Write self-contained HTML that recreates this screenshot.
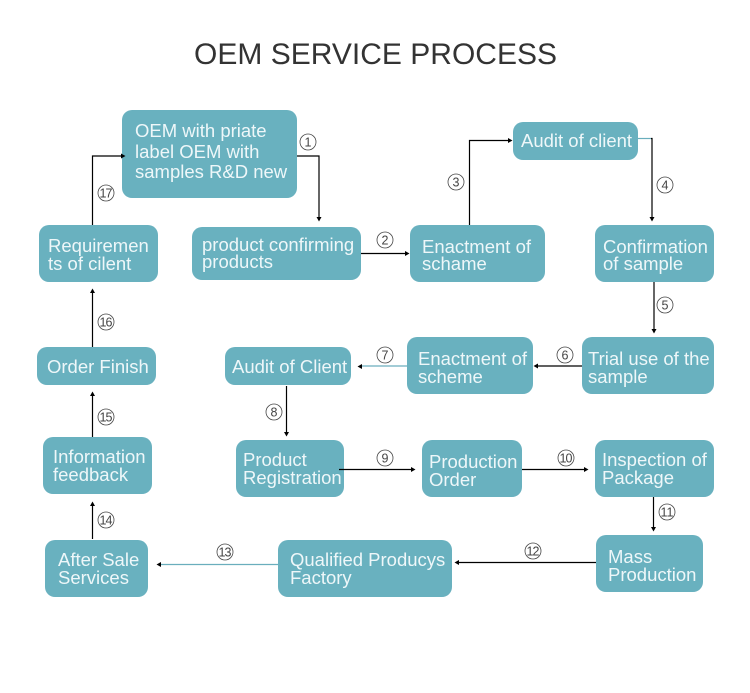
<!DOCTYPE html>
<html>
<head>
<meta charset="utf-8">
<style>
html,body{margin:0;padding:0;background:#fff;width:750px;height:693px;overflow:hidden}
svg{display:block}
text{font-family:"Liberation Sans",sans-serif}
.t{font-size:18.5px;fill:#eef7f9}
.n{font-size:12.5px;fill:#444;text-anchor:middle}
.c{fill:none;stroke:#444;stroke-width:.8}
.l{fill:none;stroke:#000;stroke-width:1.2}
.b{fill:none;stroke:#6aaebd;stroke-width:1.2}
.r{fill:#69b1bf}
</style>
</head>
<body>
<svg width="750" height="693" viewBox="0 0 750 693" xmlns="http://www.w3.org/2000/svg">
<rect width="750" height="693" fill="#fff"/>
<text x="194" y="64" font-size="30" fill="#333" textLength="363">OEM SERVICE PROCESS</text>

<rect class="r" x="122" y="110" width="175" height="88" rx="10"/>
<rect class="r" x="39" y="225" width="119" height="57" rx="10"/>
<rect class="r" x="192" y="227" width="169" height="53" rx="10"/>
<rect class="r" x="410" y="225" width="135" height="57" rx="10"/>
<rect class="r" x="513" y="122" width="125" height="38" rx="10"/>
<rect class="r" x="595" y="225" width="119" height="57" rx="10"/>
<rect class="r" x="582" y="337" width="132" height="57" rx="10"/>
<rect class="r" x="407" y="337" width="126" height="57" rx="10"/>
<rect class="r" x="225" y="347" width="126" height="38" rx="10"/>
<rect class="r" x="37" y="347" width="119" height="38" rx="10"/>
<rect class="r" x="43" y="437" width="109" height="57" rx="10"/>
<rect class="r" x="236" y="440" width="108" height="57" rx="10"/>
<rect class="r" x="422" y="440" width="100" height="57" rx="10"/>
<rect class="r" x="595" y="440" width="119" height="57" rx="10"/>
<rect class="r" x="596" y="535" width="107" height="57" rx="10"/>
<rect class="r" x="278" y="540" width="174" height="57" rx="10"/>
<rect class="r" x="45" y="540" width="103" height="57" rx="10"/>

<text class="t" x="135" y="137">OEM with priate</text>
<text class="t" x="135" y="158">label OEM with</text>
<text class="t" x="135" y="178">samples R&amp;D new</text>
<text class="t" x="48" y="252">Requiremen</text>
<text class="t" x="48" y="270">ts of cilent</text>
<text class="t" x="202" y="251">product confirming</text>
<text class="t" x="202" y="268">products</text>
<text class="t" x="422" y="253">Enactment of</text>
<text class="t" x="422" y="270">schame</text>
<text class="t" x="521" y="147">Audit of client</text>
<text class="t" x="603" y="253">Confirmation</text>
<text class="t" x="603" y="270">of sample</text>
<text class="t" x="588" y="365">Trial use of the</text>
<text class="t" x="588" y="383">sample</text>
<text class="t" x="418" y="365">Enactment of</text>
<text class="t" x="418" y="383">scheme</text>
<text class="t" x="232" y="373">Audit of Client</text>
<text class="t" x="47" y="373">Order Finish</text>
<text class="t" x="53" y="463">Information</text>
<text class="t" x="53" y="481">feedback</text>
<text class="t" x="243" y="466">Product</text>
<text class="t" x="243" y="484">Registration</text>
<text class="t" x="429" y="468">Production</text>
<text class="t" x="429" y="486">Order</text>
<text class="t" x="602" y="466">Inspection of</text>
<text class="t" x="602" y="484">Package</text>
<text class="t" x="608" y="563">Mass</text>
<text class="t" x="608" y="581">Production</text>
<text class="t" x="290" y="566">Qualified Producys</text>
<text class="t" x="290" y="584">Factory</text>
<text class="t" x="58" y="566">After Sale</text>
<text class="t" x="58" y="584">Services</text>

<path class="l" d="M297 156H319V218"/><path d="M316.500 217h5l-2.500 4.500z"/>
<path class="l" d="M92.500 225V156H122"/><path d="M121 153.500v5l4.500-2.500z"/>
<path class="l" d="M361 253.500H406"/><path d="M405 251v5l4.500-2.500z"/>
<path class="l" d="M469.500 225V140.500H509"/><path d="M508 138v5l4.500-2.500z"/>
<path class="b" d="M638 138.500H651"/><path class="l" d="M651 138.500H652V218"/><path d="M649.500 217h5l-2.500 4.500z"/>
<path class="l" d="M654 282V330"/><path d="M651.500 329h5l-2.500 4.500z"/>
<path class="l" d="M582 366H537"/><path d="M538 363.500v5l-4.500-2.500z"/>
<path class="b" d="M407 366H361"/><path d="M362 364v5l-4.500-2.500z"/>
<path class="l" d="M286.500 386V433"/><path d="M284 432h5l-2.500 4.500z"/>
<path class="l" d="M339 469.500H412"/><path d="M411 467v5l4.500-2.500z"/>
<path class="l" d="M522 469.500H585"/><path d="M584 467v5l4.500-2.500z"/>
<path class="l" d="M653.500 497V528"/><path d="M651 527h5l-2.500 4.500z"/>
<path class="l" d="M596 562.500H458"/><path d="M459 560v5l-4.500-2.500z"/>
<path class="b" d="M278 564.500H160"/><path d="M161 562v5l-4.500-2.500z"/>
<path class="l" d="M92.500 539V505"/><path d="M90 506h5l-2.500-4.500z"/>
<path class="l" d="M92.500 437V395"/><path d="M90 396h5l-2.500-4.500z"/>
<path class="l" d="M92.500 347V292"/><path d="M90 293h5l-2.500-4.500z"/>

<circle class="c" cx="308" cy="142" r="8"/><text class="n" x="308" y="146.500">1</text>
<circle class="c" cx="106" cy="193" r="8"/><text class="n" x="106" y="197.500" textLength="13">17</text>
<circle class="c" cx="385" cy="240" r="8"/><text class="n" x="385" y="244.500">2</text>
<circle class="c" cx="456" cy="182" r="8"/><text class="n" x="456" y="186.500">3</text>
<circle class="c" cx="665" cy="185" r="8"/><text class="n" x="665" y="189.500">4</text>
<circle class="c" cx="665" cy="305" r="8"/><text class="n" x="665" y="309.500">5</text>
<circle class="c" cx="565" cy="355" r="8"/><text class="n" x="565" y="359.500">6</text>
<circle class="c" cx="385" cy="355" r="8"/><text class="n" x="385" y="359.500">7</text>
<circle class="c" cx="274" cy="412" r="8"/><text class="n" x="274" y="416.500">8</text>
<circle class="c" cx="385" cy="458" r="8"/><text class="n" x="385" y="462.500">9</text>
<circle class="c" cx="566" cy="458" r="8"/><text class="n" x="566" y="462.500" textLength="13">10</text>
<circle class="c" cx="667" cy="512" r="8"/><text class="n" x="667" y="516.500" textLength="13">11</text>
<circle class="c" cx="533" cy="551" r="8"/><text class="n" x="533" y="555.500" textLength="13">12</text>
<circle class="c" cx="225" cy="552" r="8"/><text class="n" x="225" y="556.500" textLength="13">13</text>
<circle class="c" cx="106" cy="520" r="8"/><text class="n" x="106" y="524.500" textLength="13">14</text>
<circle class="c" cx="106" cy="417" r="8"/><text class="n" x="106" y="421.500" textLength="13">15</text>
<circle class="c" cx="106" cy="322" r="8"/><text class="n" x="106" y="326.500" textLength="13">16</text>
</svg>
</body>
</html>
